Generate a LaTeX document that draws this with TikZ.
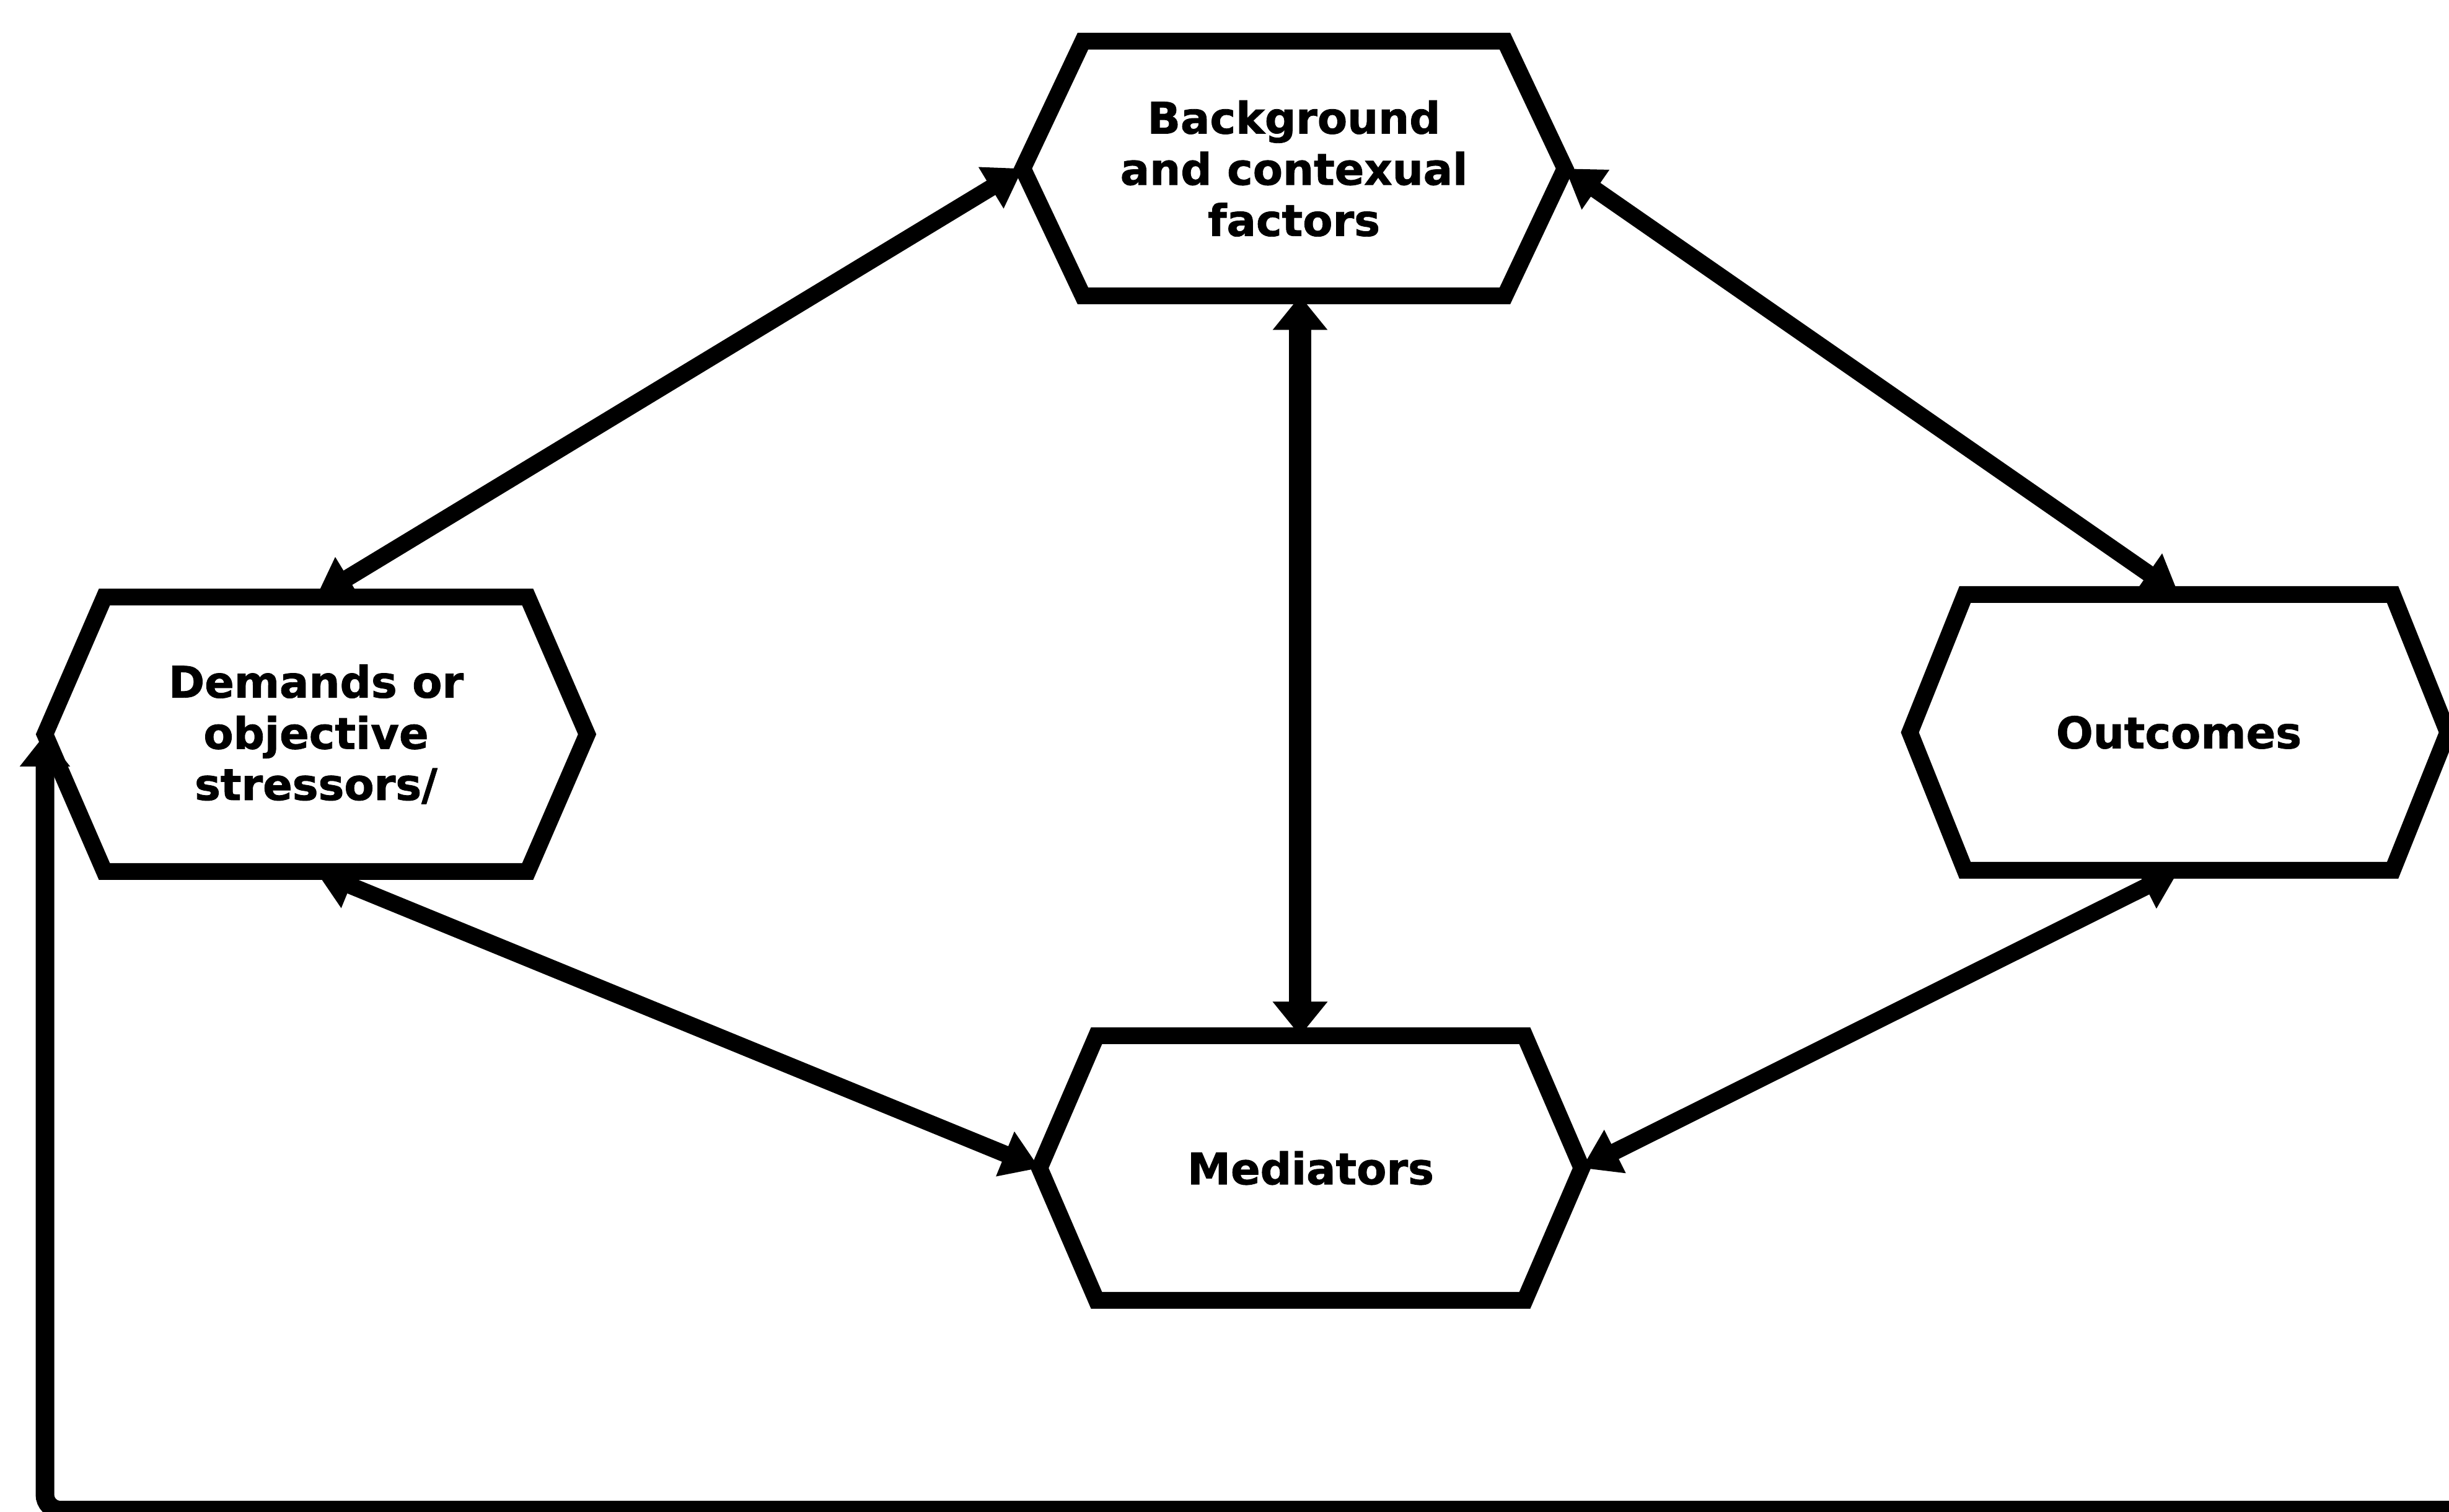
\documentclass[tikz,border=0pt]{standalone}
\usepackage{fontspec}
\newfontfamily\lblfont{DejaVu Sans}[BoldFeatures={FakeBold=1.2}]
\usetikzlibrary{arrows.meta}
\tikzset{
  hexnode/.style={rectangle, draw=none, inner sep=0pt, outer sep=0pt,
    minimum width=8.75cm, align=center,
    font=\lblfont\bfseries\fontsize{20}{23.5}\selectfont},
  hexborder/.style={draw=black, line width=0.27cm, line join=miter},
  conn/.style={draw=black, line width=0.27cm,
    {Triangle[length=0.6cm,width=0.74cm]}-{Triangle[length=0.6cm,width=0.74cm]}},
  vconn/.style={draw=black, line width=0.36cm,
    {Triangle[length=0.55cm,width=0.85cm]}-{Triangle[length=0.55cm,width=0.85cm]}},
  feedback/.style={draw=black, line width=0.3cm,
    -{Triangle[length=0.52cm,width=0.78cm]}, rounded corners=0.25cm}
}
\newcommand\drawhex[2]{%
  \draw[hexborder] ([xshift=#2]#1.north west) -- ([xshift=-#2]#1.north east)
    -- (#1.east) -- ([xshift=-#2]#1.south east) -- ([xshift=#2]#1.south west)
    -- (#1.west) -- cycle;}
\begin{document}
\begin{tikzpicture}
\useasboundingbox (0,0) rectangle (39.52,24.40);
\fill[white] (0,0) rectangle (39.52,24.40);

\node[hexnode, minimum height=4.11cm] (bg) at (20.88,21.68) {Background\\and contexual\\factors};
\node[hexnode, minimum height=4.43cm] (dem) at (5.10,12.55) {Demands or\\objective\\stressors/};
\node[hexnode, minimum height=4.45cm, minimum width=8.68cm] (out) at (35.16,12.58) {Outcomes};
\node[hexnode, minimum height=4.27cm] (med) at (21.15,5.55) {Mediators};

\drawhex{bg}{0.97cm}
\drawhex{dem}{0.96cm}
\drawhex{out}{0.89cm}
\drawhex{med}{0.92cm}

\draw[conn] (bg.west) -- (dem.north);
\draw[conn] (bg.east) -- (out.north);
\coordinate (vx) at (20.98,0);
\draw[vconn] (bg.south -| vx) -- (med.north -| vx);
\draw[conn] (dem.south) -- (med.west);
\draw[conn] (out.south) -- (med.east);
\coordinate (fb) at (40.2,0.03);
\draw[feedback] (fb) -| (dem.west);
\end{tikzpicture}
\end{document}
